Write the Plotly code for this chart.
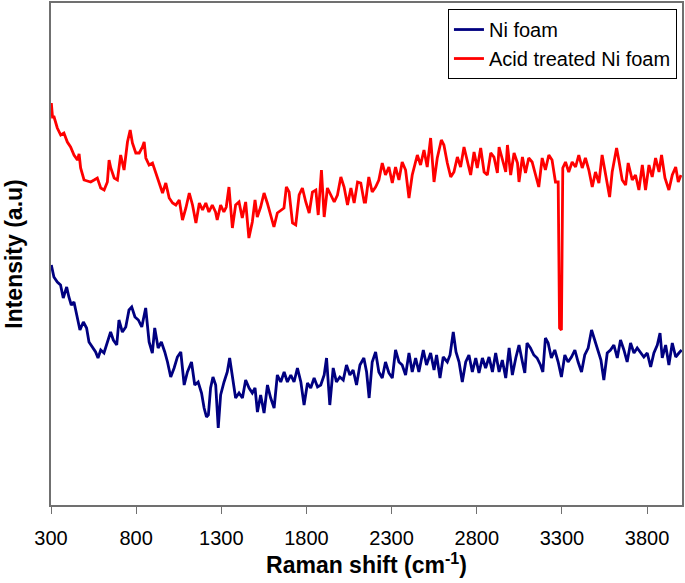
import plotly.graph_objects as go

# Ni foam (blue) - Raman shift (cm-1) / intensity (arbitrary units)
ni_x = [302, 317, 337, 356, 372, 392, 405, 419, 435, 454, 470, 490, 509, 523, 543, 562,
        576, 592, 611, 631, 650, 666, 686, 699, 719, 739, 758, 774, 793, 813, 833, 856,
        876, 895, 909, 929, 948, 968, 984, 1003, 1023, 1042, 1062, 1082, 1101, 1125,
        1144, 1164, 1184, 1199, 1213, 1224, 1237, 1251, 1267, 1282, 1296, 1316, 1335,
        1349, 1365, 1384, 1404, 1424, 1443, 1463, 1482, 1498, 1512, 1531, 1551, 1571,
        1590, 1610, 1629, 1649, 1669, 1688, 1708, 1727, 1747, 1767, 1786, 1806, 1825,
        1845, 1865, 1884, 1904, 1918, 1937, 1957, 1976, 1996, 2016, 2035, 2055, 2074,
        2094, 2114, 2137, 2153, 2168, 2186, 2206, 2225, 2245, 2264, 2284, 2304, 2323,
        2343, 2362, 2382, 2402, 2421, 2441, 2460, 2486, 2505, 2529, 2549, 2564, 2584,
        2603, 2627, 2643, 2662, 2678, 2696, 2715, 2735, 2754, 2774, 2794, 2813, 2833,
        2852, 2872, 2892, 2911, 2931, 2950, 2970, 2990, 3009, 3029, 3048, 3068, 3082,
        3095, 3115, 3135, 3154, 3174, 3188, 3203, 3219, 3238, 3258, 3278, 3297, 3317,
        3336, 3356, 3376, 3395, 3415, 3434, 3454, 3474, 3489, 3509, 3529, 3546, 3566,
        3585, 3605, 3625, 3644, 3664, 3683, 3703, 3723, 3742, 3762, 3781, 3801, 3821,
        3840, 3860, 3876, 3889, 3909, 3928, 3948, 3968, 3987, 4003]
ni_y = [240, 228, 223, 220, 207, 218, 208, 200, 203, 188, 175, 183, 177, 163, 158, 153,
        147, 155, 152, 162, 173, 165, 160, 185, 173, 178, 195, 198, 188, 185, 178, 197,
        163, 152, 177, 157, 163, 153, 143, 128, 137, 148, 153, 120, 133, 143,
        120, 123, 112, 97, 88, 90, 117, 128, 120, 77, 110, 123, 133,
        147, 128, 107, 112, 107, 125, 117, 112, 117, 93, 110, 92, 120,
        107, 97, 130, 123, 133, 123, 130, 123, 137, 123, 100, 122, 117,
        127, 118, 120, 130, 147, 100, 137, 123, 128, 125, 140, 130, 135,
        120, 140, 147, 133, 107, 143, 153, 133, 127, 143, 132, 127, 155,
        143, 140, 130, 152, 133, 147, 133, 155, 140, 152, 135, 150, 127,
        148, 143, 150, 173, 153, 143, 123, 143, 150, 133, 147, 132, 147,
        137, 148, 133, 152, 133, 145, 127, 157, 130, 147, 160, 143, 132,
        162, 157, 150, 147, 140, 133, 167, 162, 147, 155, 143, 128, 150,
        143, 148, 155, 143, 133, 150, 157, 175, 167, 155, 145, 125, 152,
        155, 160, 147, 165, 155, 143, 162, 152, 157, 152, 148, 152, 138,
        152, 160, 172, 147, 160, 140, 162, 148, 152, 155]

# Acid treated Ni foam (red)
acid_x = [302, 309, 318, 337, 357, 376, 396, 415, 435, 455, 465, 474, 494, 514, 533, 553,
          572, 592, 612, 631, 641, 651, 671, 690, 709, 729, 749, 765, 778, 798, 818, 837,
          847, 857, 876, 896, 915, 935, 955, 974, 994, 1014, 1033, 1053, 1072, 1092,
          1112, 1131, 1151, 1171, 1190, 1209, 1227, 1247, 1266, 1276, 1296, 1315, 1329,
          1345, 1365, 1384, 1404, 1423, 1443, 1462, 1482, 1498, 1511, 1531, 1551, 1570,
          1590, 1609, 1629, 1649, 1668, 1682, 1698, 1718, 1737, 1757, 1776, 1796, 1816,
          1835, 1855, 1869, 1888, 1904, 1923, 1943, 1963, 1982, 2002, 2021, 2041, 2061,
          2080, 2100, 2119, 2139, 2147, 2166, 2186, 2206, 2225, 2245, 2264, 2284, 2304,
          2323, 2343, 2362, 2382, 2402, 2421, 2451, 2470, 2490, 2509, 2529, 2549, 2568,
          2592, 2607, 2627, 2647, 2666, 2686, 2705, 2725, 2745, 2764, 2784, 2803, 2823,
          2843, 2862, 2882, 2901, 2921, 2931, 2950, 2970, 2980, 2999, 3019, 3039, 3048,
          3068, 3086, 3105, 3125, 3144, 3164, 3184, 3203, 3223, 3242, 3262, 3278, 3286,
          3297, 3305, 3321, 3340, 3360, 3380, 3399, 3419, 3438, 3458, 3478, 3497, 3517,
          3536, 3556, 3580, 3595, 3621, 3634, 3654, 3674, 3689, 3713, 3732, 3752, 3772,
          3791, 3811, 3830, 3850, 3870, 3885, 3905, 3928, 3948, 3968, 3983, 3999]
acid_y = [402, 388, 388, 377, 370, 372, 363, 358, 350, 345, 351, 337, 325, 324, 323, 325,
          327, 317, 315, 323, 345, 337, 327, 325, 350, 335, 363, 375, 362, 352, 352, 358,
          363, 347, 340, 342, 333, 322, 312, 322, 307, 302, 300, 305, 285, 297,
          312, 300, 282, 302, 295, 302, 293, 300, 293, 285, 300, 293, 298,
          318, 277, 300, 303, 287, 303, 267, 283, 305, 288, 298, 312, 302,
          290, 278, 292, 295, 297, 318, 313, 282, 280, 310, 317, 303, 292,
          313, 315, 290, 335, 288, 317, 310, 303, 310, 328, 318, 300, 317,
          302, 323, 322, 303, 303, 328, 313, 318, 325, 342, 330, 338, 322,
          338, 325, 343, 335, 307, 330, 350, 340, 355, 338, 367, 323, 347,
          365, 360, 342, 328, 333, 348, 338, 358, 343, 330, 353, 337, 357,
          333, 330, 352, 348, 332, 358, 345, 333, 360, 330, 352, 342, 323,
          348, 332, 347, 343, 332, 318, 347, 335, 350, 345, 323, 323, 177,
          175, 337, 343, 333, 343, 338, 350, 337, 347, 335, 318, 333, 322,
          350, 330, 308, 333, 357, 345, 325, 320, 342, 325, 330, 315, 340,
          315, 340, 328, 347, 333, 350, 327, 315, 330, 338, 323, 330]

x_ticks = [300, 800, 1300, 1800, 2300, 2800, 3300, 3800]

FONT = 'Arial, Liberation Sans, sans-serif'

fig = go.Figure()

fig.add_trace(go.Scatter(
    x=ni_x, y=ni_y,
    name='Ni foam',
    mode='lines',
    line=dict(color='#000080', width=2.8)
))

fig.add_trace(go.Scatter(
    x=acid_x, y=acid_y,
    name='Acid treated Ni foam',
    mode='lines',
    line=dict(color='#ff0000', width=2.8)
))

fig.update_layout(
    width=685, height=583,
    margin=dict(l=51, r=3, t=3, b=78, autoexpand=False),
    paper_bgcolor='white',
    plot_bgcolor='white',
    font=dict(family=FONT, size=20, color='#000000'),
    showlegend=True,
    legend=dict(
        x=0.992, y=0.988,
        xanchor='right', yanchor='top',
        bgcolor='white',
        bordercolor='#000000',
        borderwidth=1,
        font=dict(family=FONT, size=20, color='#000000'),
        tracegroupgap=0,
        itemwidth=30
    ),
    xaxis=dict(
        range=[300, 4005],
        tickvals=x_ticks,
        ticks='outside',
        ticklen=7,
        tickcolor='#707070',
        ticklabelstandoff=7,
        tickfont=dict(family=FONT, size=20, color='#000000'),
        showline=True,
        linecolor='#707070',
        linewidth=1.5,
        mirror=True,
        showgrid=False,
        zeroline=False,
        automargin=False,
        title=dict(text='<b>Raman shift (cm<sup>-1</sup>)</b>',
                   font=dict(family=FONT, size=23, color='#000000'),
                   standoff=7)
    ),
    yaxis=dict(
        range=[0, 502],
        showticklabels=False,
        ticks='',
        showline=True,
        linecolor='#707070',
        linewidth=1.5,
        mirror=True,
        showgrid=False,
        zeroline=False,
        automargin=False,
        title=dict(text='<b>Intensity (a.u)</b>',
                   font=dict(family=FONT, size=23, color='#000000'),
                   standoff=20)
    )
)

# drop the page's default body margin so the figure sits at the window corner
fig.write_html('out.html', config={'displayModeBar': False},
               post_script="document.body.style.margin='0';")
